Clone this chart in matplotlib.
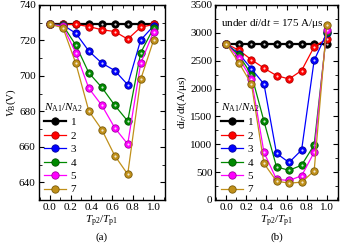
import matplotlib
matplotlib.use("Agg")
import matplotlib.pyplot as plt
from matplotlib.ticker import MultipleLocator

plt.rcParams['font.family'] = ['Liberation Serif', 'DejaVu Serif']
plt.rcParams['mathtext.fontset'] = 'custom'
plt.rcParams['mathtext.rm'] = 'Liberation Serif'
plt.rcParams['mathtext.it'] = 'Liberation Serif:italic'
plt.rcParams['font.size'] = 8

x = [0.0, 0.125, 0.25, 0.375, 0.5, 0.625, 0.75, 0.875, 1.0]
labels = ['1', '2', '3', '4', '5', '7']
colors = ['#000000', '#FF0000', '#0000FF', '#008A00', '#FF00FF', '#C0901A']
edge_colors = ['#000000', '#B00000', '#0000A0', '#005000', '#A000A0', '#7A5A08']

vb = {
    '1': [729, 729, 729, 729, 729, 729, 729, 729, 729],
    '2': [729, 729, 729, 727.8, 726, 725, 720.7, 727.4, 729],
    '3': [729, 728.7, 724, 714, 707.2, 703, 695, 720.2, 728.2],
    '4': [729, 728.5, 717.3, 701.7, 693.5, 683.4, 674.5, 713, 727],
    '5': [729, 728, 713, 693, 683.4, 670.7, 661.5, 707, 725],
    '7': [729, 727.2, 707, 680.2, 669.7, 655, 644.5, 698, 720.2],
}
didt = {
    '1': [2800, 2800, 2800, 2800, 2800, 2800, 2800, 2800, 2800],
    '2': [2800, 2687, 2517, 2366, 2232, 2171, 2323, 2748, 2890],
    '3': [2800, 2626, 2353, 2080, 837, 673, 897, 2505, 2990],
    '4': [2800, 2600, 2250, 1413, 594, 533, 624, 988, 3010],
    '5': [2800, 2548, 2171, 855, 370, 350, 435, 855, 3050],
    '7': [2800, 2463, 2080, 655, 339, 302, 320, 521, 3140],
}

fig = plt.figure(figsize=(3.42, 2.46), dpi=100)
axA = fig.add_axes([0.1126, 0.187, 0.370, 0.793])
axB = fig.add_axes([0.6295, 0.187, 0.358, 0.793])

def draw(ax, data):
    for lab, c, ec in zip(labels, colors, edge_colors):
        lw = 1.6 if lab == '1' else 0.9
        ax.plot(x, data[lab], color=c, lw=lw, marker='o', markersize=5.3,
                markerfacecolor=c, markeredgecolor=ec, markeredgewidth=0.6,
                label=lab)
        ax.plot(x, data[lab], ls='none', marker='o', markersize=1.6,
                markerfacecolor='white', markeredgecolor='none', alpha=0.8)
    ax.set_xlim(-0.11, 1.11)
    ax.xaxis.set_minor_locator(MultipleLocator(0.1))
    ax.tick_params(which='both', direction='in', top=True, right=True,
                   labelsize=8, pad=2)
    ax.tick_params(which='major', length=3.5, width=0.8)
    ax.tick_params(which='minor', length=2, width=0.6)
    for s in ax.spines.values():
        s.set_linewidth(1.0)
    ax.set_xticks([0.0, 0.2, 0.4, 0.6, 0.8, 1.0])
    ax.set_xticklabels(['0.0', '0.2', '0.4', '0.6', '0.8', '1.0'])
    ax.set_xlabel(r'$T_{\mathrm{p2}}/T_{\mathrm{p1}}$', fontsize=8, labelpad=1.5)
    leg = ax.legend(loc='lower left', bbox_to_anchor=(0.0, 0.0), frameon=False,
                    title=r'$N_{\mathrm{A1}}/N_{\mathrm{A2}}$', title_fontsize=8,
                    fontsize=8, handlelength=2.0, handletextpad=0.4,
                    labelspacing=0.33, borderpad=0.3, borderaxespad=0.2,
                    alignment='left')
    return leg

draw(axA, vb)
axA.set_ylim(630, 740)
axA.yaxis.set_major_locator(MultipleLocator(20))
axA.yaxis.set_minor_locator(MultipleLocator(10))
axA.set_ylabel(r'$V_{\mathrm{B}}$(V)', fontsize=8, labelpad=1)
axA.text(0.5, -0.19, '(a)', transform=axA.transAxes, ha='center', va='center', fontsize=8)

draw(axB, didt)
axB.set_ylim(0, 3500)
axB.yaxis.set_major_locator(MultipleLocator(500))
axB.yaxis.set_minor_locator(MultipleLocator(250))
axB.set_ylabel(r'd$i_{r}$/d$t$(A/μs)', fontsize=8, labelpad=1)
axB.text(0.5, -0.19, '(b)', transform=axB.transAxes, ha='center', va='center', fontsize=8)
axB.text(0.05, 0.905, r'under d$i$/d$t$ = 175 A/μs', transform=axB.transAxes,
         ha='left', va='center', fontsize=8)

fig.savefig('out.png', dpi=100)
